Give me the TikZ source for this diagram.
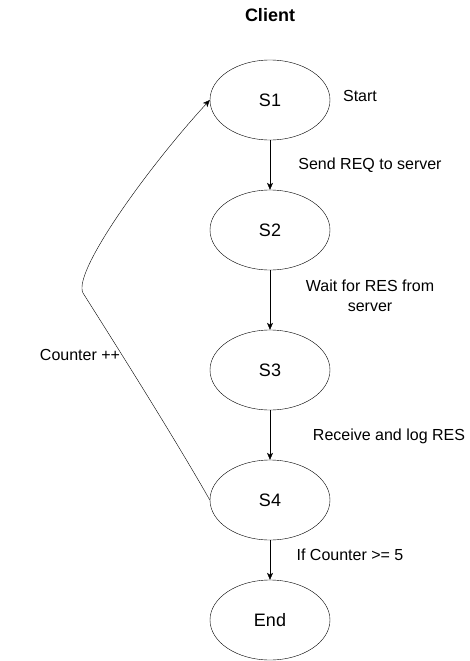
\documentclass[tikz,border=0pt]{standalone}
\usepackage{fontspec}
\setmainfont{Liberation Sans}
\usetikzlibrary{arrows.meta,shapes.geometric}
\definecolor{ink}{HTML}{000000}

\begin{document}
\begin{tikzpicture}[x=1pt,y=-1pt,text=ink,>={Stealth[length=7pt,width=6pt,inset=2pt]},
    state/.style={draw=ink,ellipse,minimum width=120pt,minimum height=80pt,inner sep=0pt,
      font=\fontsize{18}{21}\selectfont},
    note/.style={font=\fontsize{16}{20}\selectfont,align=center}]
  \useasboundingbox (0,0) rectangle (470,661);
  \node[font=\fontsize{18}{21}\selectfont\bfseries] (title) at (270,15) {Client};

  \node[state] (s1) at (270,100) {S1};
  \node[state] (s2) at (270,230) {S2};
  \node[state] (s3) at (270,370) {S3};
  \node[state] (s4) at (270,500) {S4};
  \node[state] (stop) at (270,620) {End};

  \node[note] (start) at (360,96) {Start};
  \node[note] (send) at (370,165) {Send REQ to server};
  \node[note] (wait) at (370,296) {Wait for RES from\\server};
  \node[note] (recv) at (389,436) {Receive and log RES};
  \node[note] (cond) at (350,555) {If Counter >= 5};
  \node[note] (count) at (80,355) {Counter ++};

  \draw[->] (s1) -- (s2);
  \draw[->] (s2) -- (s3);
  \draw[->] (s3) -- (s4);
  \draw[->] (s4) -- (stop);

  \coordinate (bend) at (83,293);
  \draw[->] (s4.west) .. controls (170,430) and (100,320) .. (bend)
    .. controls (72,272) and (150,165) .. (s1.west);
\end{tikzpicture}
\end{document}
